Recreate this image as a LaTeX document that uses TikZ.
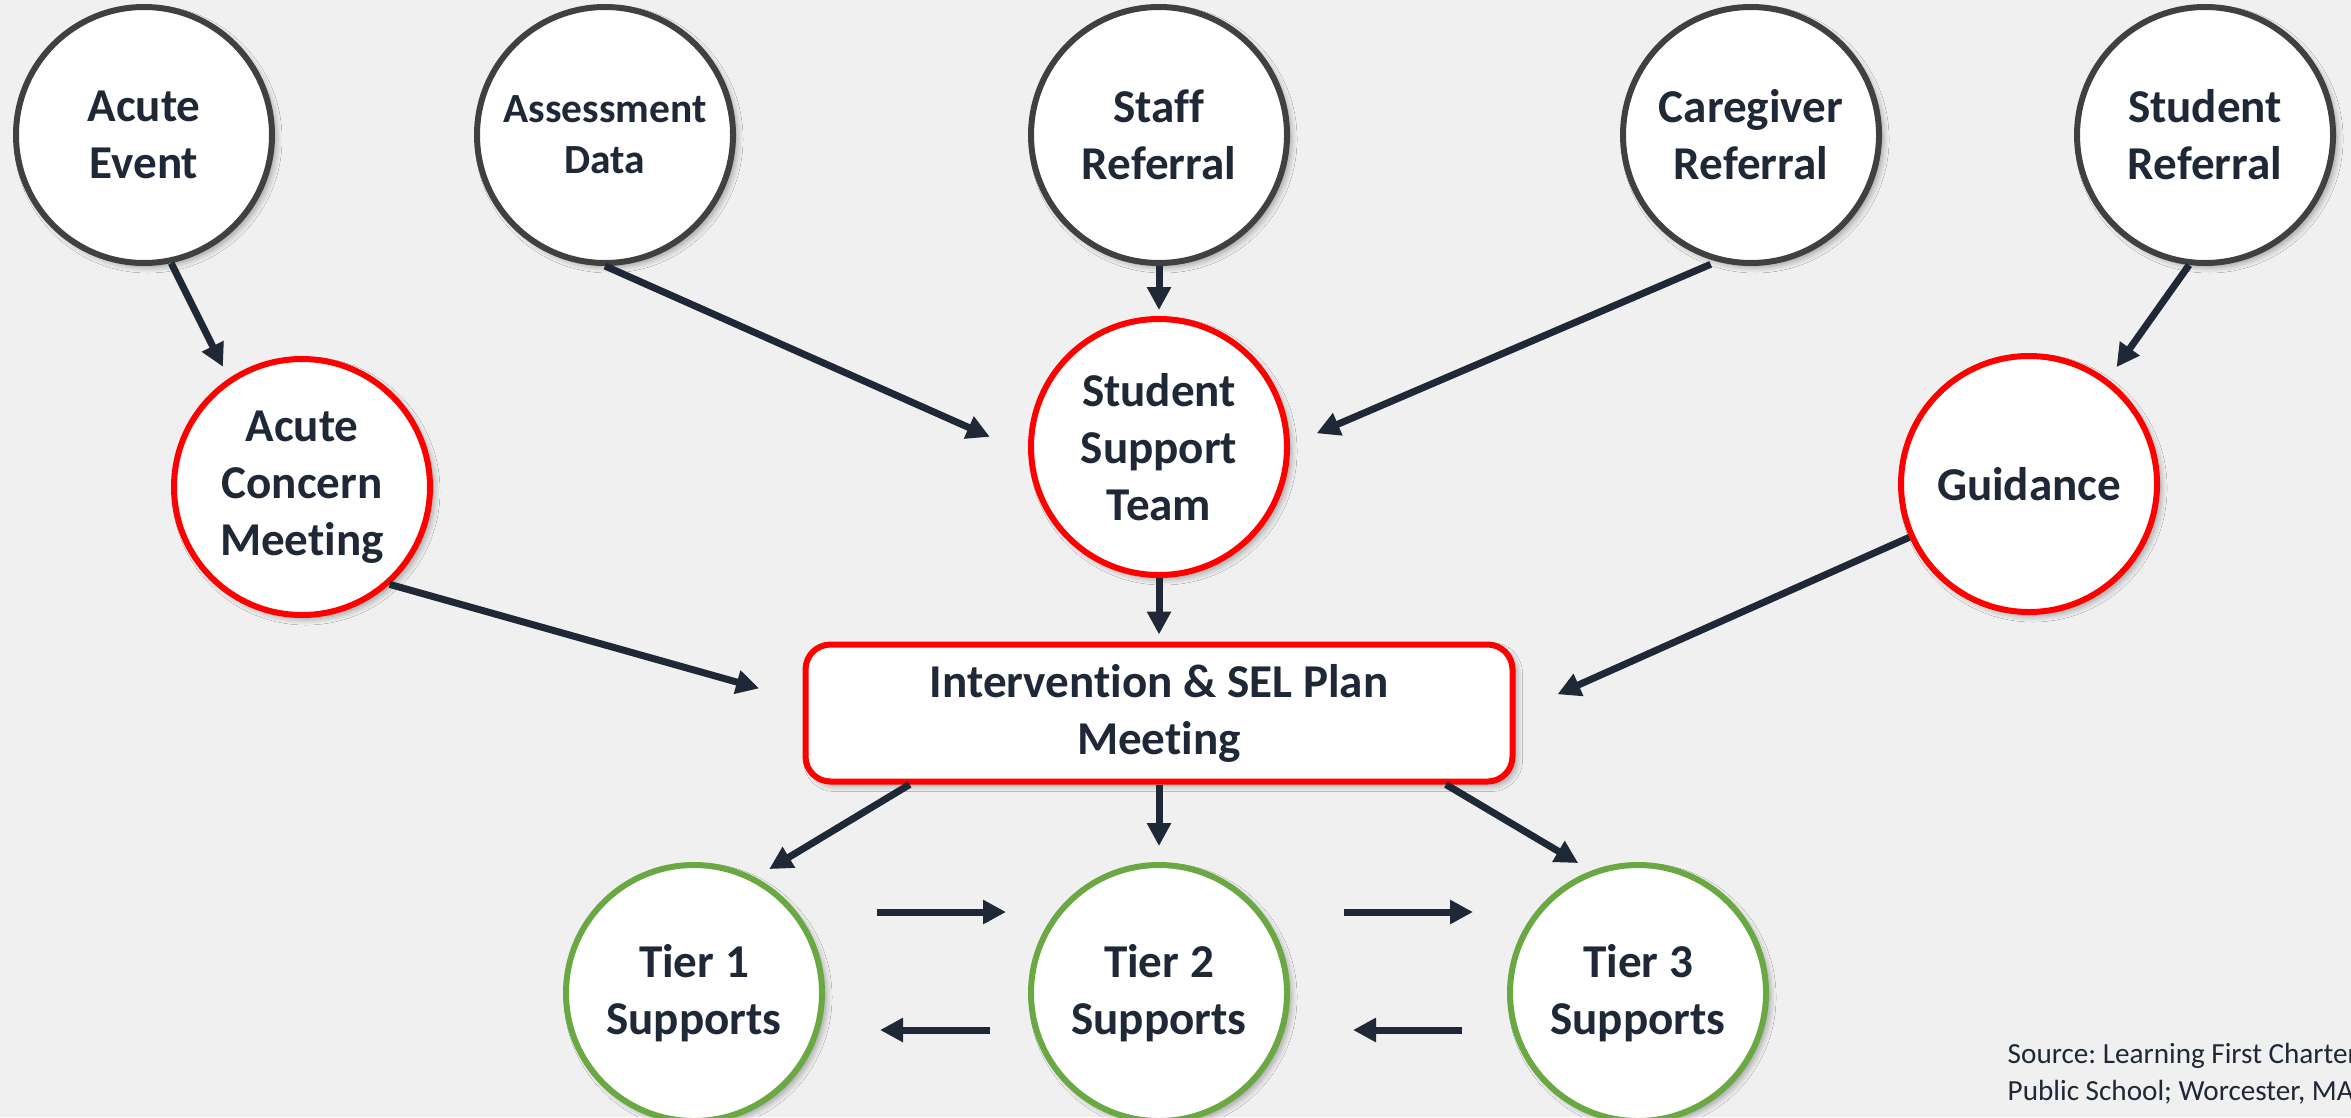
\documentclass[tikz,border=0pt]{standalone}
\usepackage{fontspec}
\setmainfont{Carlito}[Ligatures=NoCommon]
\usepackage{xcolor}
\usetikzlibrary{arrows.meta,shadows.blur}

\definecolor{navy}{HTML}{1E2836}
\definecolor{ringgray}{HTML}{404040}
\definecolor{ringred}{HTML}{FF0000}
\definecolor{ringgreen}{HTML}{6AA843}
\definecolor{bg}{HTML}{F0F0F0}

\tikzset{
    shd/.style={blur shadow={shadow xshift=0.04cm, shadow yshift=-0.04cm, shadow blur radius=0.06cm, shadow blur steps=8, shadow opacity=35}}
}

\frenchspacing

\begin{document}
\begin{tikzpicture}[
    ref/.style={circle, draw=ringgray, line width=0.06cm, fill=white, minimum size=2.56cm, inner sep=0pt, align=center, text=navy, font=\fontsize{13.4}{16.2}\selectfont\bfseries, shd},
    team/.style={ref, draw=ringred},
    tier/.style={ref, draw=ringgreen},
    mtg/.style={draw=ringred, line width=0.06cm, fill=white, rounded corners=0.25cm, minimum width=7.07cm, minimum height=1.37cm, align=center, text=navy, font=\fontsize{13.4}{16.2}\selectfont\bfseries, shd},
    note/.style={font=\fontsize{8.3}{10.5}\selectfont, text=navy, align=left, inner sep=0pt},
    arr/.style={-{Triangle[length=0.23cm, width=0.23cm]}, line width=0.07cm, draw=navy}
]
    \useasboundingbox (0,0) rectangle (23.51,-11.17);
    \fill[bg] (0,0) rectangle (23.51,-11.17);

    % Referral sources
    \node[ref] (ae) at (1.44,-1.35) {Acute\\Event};
    \node[ref, font=\fontsize{11.8}{14.4}\selectfont\bfseries] (ad) at (6.05,-1.35) {Assessment\\Data};
    \node[ref] (sr) at (11.59,-1.35) {Staff\\Referral};
    \node[ref] (cr) at (17.51,-1.35) {Caregiver\\Referral};
    \node[ref] (stu) at (22.05,-1.35) {Student\\Referral};

    % Teams
    \node[team] (acm) at (3.02,-4.87) {Acute\\Concern\\Meeting};
    \node[team] (sst) at (11.59,-4.47) {Student\\Support\\Team};
    \node[team] (gd) at (20.29,-4.84) {Guidance};

    % Plan meeting
    \node[mtg] (plan) at (11.59,-7.13) {Intervention \& SEL Plan\\Meeting};

    % Tiers
    \node[tier] (t1) at (6.94,-9.93) {Tier 1\\Supports};
    \node[tier] (t2) at (11.59,-9.93) {Tier 2\\Supports};
    \node[tier] (t3) at (16.38,-9.93) {Tier 3\\Supports};

    \node[note, anchor=north west] (src) at (20.07,-10.43) {Source: Learning First Charter\\Public School; Worcester, MA};

    % Referrals in
    \draw[arr, shorten >=0.13cm] (ae.-78) -- (acm.124);
    \draw[arr, shorten >=0.42cm] (ad.-90) -- (sst.183);
    \draw[arr, shorten >=0.06cm] (sr.south) -- (sst.north);
    \draw[arr, shorten <=0.07cm, shorten >=0.29cm] (cr.-105) -- (sst.1);
    \draw[arr, shorten >=0.15cm] (stu.-97) -- (gd.53);

    % Into the plan meeting
    \draw[arr, shorten >=0.45cm] (acm.-48) -- (plan.178);
    \draw[arr, shorten >=0.07cm] (sst.south) -- (plan.north);
    \draw[arr, shorten >=0.46cm] (gd.204) -- (plan.east);

    % Out to the tiers
    \draw[arr, shorten >=0.16cm] (plan.196) -- (t1.62);
    \draw[arr, shorten >=0.16cm] (plan.south) -- (t2.north);
    \draw[arr, shorten >=0.15cm] (plan.-14.5) -- (t3.111);

    % Moving between tiers
    \draw[arr] ([shift={(0.52,0.81)}]t1.east) -- ([shift={(-0.22,0.81)}]t2.west);
    \draw[arr] ([shift={(-0.38,-0.37)}]t2.west) -- ([shift={(0.55,-0.37)}]t1.east);
    \draw[arr] ([shift={(0.54,0.81)}]t2.east) -- ([shift={(-0.34,0.81)}]t3.west);
    \draw[arr] ([shift={(-0.45,-0.37)}]t3.west) -- ([shift={(0.63,-0.37)}]t2.east);
\end{tikzpicture}
\end{document}
